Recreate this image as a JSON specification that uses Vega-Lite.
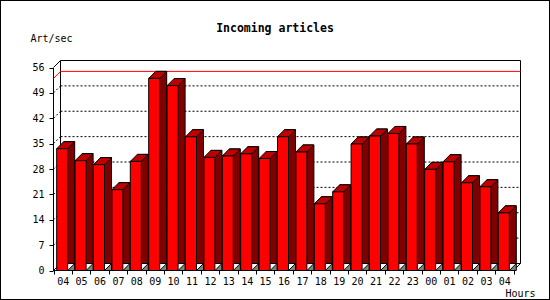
{
  "$schema": "https://vega.github.io/schema/vega-lite/v6.json",
  "width": 550,
  "height": 300,
  "autosize": {"type": "none"},
  "padding": 0,
  "background": "white",
  "config": {
    "view": {"stroke": "black", "strokeWidth": 2, "fill": "white"},
    "font": "DejaVu Sans Mono",
    "axis": {"labelOverlap": false, "labelFlush": false}
  },
  "title": {
    "text": "Incoming articles",
    "font": "DejaVu Sans Mono",
    "fontSize": 11.5,
    "fontWeight": "bold",
    "color": "black",
    "anchor": "middle",
    "frame": "group",
    "offset": -34
  },
  "datasets": {
    "main": [
      {"h": "04", "v": 33.6},
      {"h": "05", "v": 30.3},
      {"h": "06", "v": 29.2},
      {"h": "07", "v": 22.3},
      {"h": "08", "v": 30.1},
      {"h": "09", "v": 53.0},
      {"h": "10", "v": 51.0},
      {"h": "11", "v": 36.9},
      {"h": "12", "v": 31.2},
      {"h": "13", "v": 31.6},
      {"h": "14", "v": 32.2},
      {"h": "15", "v": 30.9},
      {"h": "16", "v": 36.9},
      {"h": "17", "v": 32.7},
      {"h": "18", "v": 18.4},
      {"h": "19", "v": 21.7},
      {"h": "20", "v": 34.9},
      {"h": "21", "v": 37.1},
      {"h": "22", "v": 37.8},
      {"h": "23", "v": 34.9},
      {"h": "00", "v": 27.9},
      {"h": "01", "v": 30.0},
      {"h": "02", "v": 24.2},
      {"h": "03", "v": 23.1},
      {"h": "04*", "v": 15.9}
    ],
    "grid": [{"g": 7}, {"g": 14}, {"g": 21}, {"g": 28}, {"g": 35}, {"g": 42}, {"g": 49}],
    "one": [{}]
  },
  "resolve": {"scale": {"x": "independent"}, "axis": {"x": "independent"}},
  "layer": [
    {
      "data": {"name": "one"},
      "layer": [
        {
          "data": {"name": "grid"},
          "mark": {"type": "rule", "color": "black", "strokeWidth": 1, "strokeDash": [2, 2], "xOffset": 7, "x2Offset": 7, "yOffset": -7},
          "encoding": {
            "x": {"datum": 0, "type": "quantitative", "scale": {"domain": [0, 1], "range": [53.5, 513.5]}, "axis": null},
            "x2": {"datum": 1},
            "y": {
              "field": "g",
              "type": "quantitative",
              "scale": {"domain": [0, 56], "range": [270.5, 67.5], "nice": false},
              "axis": {
                "orient": "left",
                "offset": -53,
                "values": [0, 7, 14, 21, 28, 35, 42, 49, 56],
                "tickCount": 20,
                "grid": false,
                "tickSize": 4,
                "tickColor": "black",
                "tickWidth": 1,
                "domainColor": "black",
                "domainWidth": 1,
                "labelPadding": 5,
                "labelFont": "DejaVu Sans Mono",
                "labelFontSize": 10,
                "labelColor": "black",
                "labelFlush": false,
                "labelOverlap": false,
                "title": "Art/sec",
                "titleAngle": 0,
                "titleAlign": "left",
                "titleBaseline": "middle",
                "titleX": -23,
                "titleY": 38,
                "titleFont": "DejaVu Sans Mono",
                "titleFontSize": 10,
                "titleFontWeight": "normal",
                "titleColor": "black"
              }
            }
          }
        },
        {
          "data": {"name": "grid"},
          "mark": {"type": "rule", "color": "black", "strokeWidth": 1, "strokeDash": [2, 2], "x2Offset": 7, "y2Offset": -7},
          "encoding": {
            "x": {"datum": 0, "type": "quantitative"},
            "x2": {"datum": 0},
            "y": {"field": "g", "type": "quantitative", "title": "Art/sec"},
            "y2": {"field": "g"}
          }
        },
        {
          "mark": {"type": "rule", "color": "black", "strokeWidth": 1, "xOffset": 7, "x2Offset": 7, "yOffset": -7},
          "encoding": {
            "x": {"datum": 0, "type": "quantitative"},
            "x2": {"datum": 1},
            "y": {"datum": 56, "type": "quantitative", "title": "Art/sec"}
          }
        },
        {
          "mark": {"type": "rule", "color": "black", "strokeWidth": 1, "xOffset": 7, "x2Offset": 7, "yOffset": -7},
          "encoding": {
            "x": {"datum": 0, "type": "quantitative"},
            "x2": {"datum": 1},
            "y": {"datum": 0, "type": "quantitative", "title": "Art/sec"}
          }
        },
        {
          "mark": {"type": "rule", "color": "black", "strokeWidth": 1, "xOffset": 7, "yOffset": -7, "y2Offset": -7},
          "encoding": {
            "x": {"datum": 0, "type": "quantitative"},
            "y": {"datum": 0, "type": "quantitative", "title": "Art/sec"},
            "y2": {"datum": 56}
          }
        },
        {
          "mark": {"type": "rule", "color": "black", "strokeWidth": 1, "xOffset": 7, "yOffset": -7, "y2Offset": -7},
          "encoding": {
            "x": {"datum": 1, "type": "quantitative"},
            "y": {"datum": 0, "type": "quantitative", "title": "Art/sec"},
            "y2": {"datum": 56}
          }
        },
        {
          "mark": {"type": "rule", "color": "black", "strokeWidth": 1, "x2Offset": 7, "y2Offset": -7},
          "encoding": {
            "x": {"datum": 0, "type": "quantitative"},
            "x2": {"datum": 0},
            "y": {"datum": 56, "type": "quantitative", "title": "Art/sec"},
            "y2": {"datum": 56}
          }
        },
        {
          "mark": {"type": "rule", "color": "black", "strokeWidth": 1, "x2Offset": 7, "y2Offset": -7},
          "encoding": {
            "x": {"datum": 1, "type": "quantitative"},
            "x2": {"datum": 1},
            "y": {"datum": 0, "type": "quantitative", "title": "Art/sec"},
            "y2": {"datum": 0}
          }
        },
        {
          "mark": {"type": "rule", "color": "black", "strokeWidth": 1, "x2Offset": 7, "y2Offset": -7},
          "encoding": {
            "x": {"datum": 0, "type": "quantitative"},
            "x2": {"datum": 0},
            "y": {"datum": 0, "type": "quantitative", "title": "Art/sec"},
            "y2": {"datum": 0}
          }
        },
        {
          "data": {"name": "main"},
          "transform": [{"aggregate": [{"op": "max", "field": "v", "as": "vmax"}]}],
          "mark": {"type": "rule", "color": "#ff0000", "strokeWidth": 1, "xOffset": 7, "x2Offset": 7, "yOffset": -7},
          "encoding": {
            "x": {"datum": 0, "type": "quantitative"},
            "x2": {"datum": 1},
            "y": {"field": "vmax", "type": "quantitative", "title": "Art/sec"}
          }
        },
        {
          "data": {"name": "main"},
          "transform": [{"aggregate": [{"op": "max", "field": "v", "as": "vmax"}]}],
          "mark": {"type": "rule", "color": "#ff0000", "strokeWidth": 1, "x2Offset": 7, "y2Offset": -7},
          "encoding": {
            "x": {"datum": 0, "type": "quantitative"},
            "x2": {"datum": 0},
            "y": {"field": "vmax", "type": "quantitative", "title": "Art/sec"},
            "y2": {"field": "vmax"}
          }
        }
      ]
    },
    {
      "data": {"name": "main"},
      "encoding": {
        "x": {
          "field": "h",
          "type": "nominal",
          "sort": null,
          "scale": {"type": "band", "range": [53.5, 513.5], "paddingInner": 0, "paddingOuter": 0},
          "axis": {
            "orient": "bottom",
            "offset": -30,
            "tickBand": "extent",
            "tickSize": 4,
            "tickColor": "black",
            "tickWidth": 1,
            "domainColor": "black",
            "domainWidth": 1,
            "labelAngle": 0,
            "labelPadding": 2,
            "labelFont": "DejaVu Sans Mono",
            "labelFontSize": 10,
            "labelColor": "black",
            "labelOverlap": false,
            "labelFlush": false,
            "labelExpr": "replace(datum.label, '*', '')",
            "title": "Hours",
            "titleFont": "DejaVu Sans Mono",
            "titleFontSize": 10,
            "titleFontWeight": "normal",
            "titleColor": "black",
            "titleAlign": "right",
            "titleBaseline": "middle",
            "titleX": 535,
            "titleY": 23
          }
        },
        "y": {
          "field": "v",
          "type": "quantitative",
          "axis": {
            "orient": "left",
            "offset": -53,
            "values": [0, 7, 14, 21, 28, 35, 42, 49, 56],
            "tickCount": 20,
            "grid": false,
            "tickSize": 4,
            "tickColor": "black",
            "tickWidth": 1,
            "domainColor": "black",
            "domainWidth": 1,
            "labelPadding": 5,
            "labelFont": "DejaVu Sans Mono",
            "labelFontSize": 10,
            "labelColor": "black",
            "labelFlush": false,
            "labelOverlap": false,
            "title": "Art/sec",
            "titleAngle": 0,
            "titleAlign": "left",
            "titleBaseline": "middle",
            "titleX": -23,
            "titleY": 38,
            "titleFont": "DejaVu Sans Mono",
            "titleFontSize": 10,
            "titleFontWeight": "normal",
            "titleColor": "black"
          }
        }
      },
      "layer": [
        {"mark": {"type": "bar", "width": 11, "xOffset": 6.5, "yOffset": -7, "y2Offset": 0, "fill": "#800000", "stroke": "black", "strokeWidth": 1}},
        {
          "mark": {"type": "point", "shape": "M5,0L12,-7L12,0Z", "size": 4, "filled": true, "fill": "#808080", "stroke": "black", "strokeWidth": 1, "opacity": 1},
          "encoding": {"y": {"datum": 0, "type": "quantitative"}}
        },
        {"mark": {"type": "point", "shape": "M-6,0L5,0L12,-7L1,-7Z", "size": 4, "filled": true, "fill": "#c00000", "stroke": "black", "strokeWidth": 1, "opacity": 1}},
        {"mark": {"type": "bar", "width": 11, "xOffset": -0.5, "fill": "#ff0000", "stroke": "black", "strokeWidth": 1}}
      ]
    }
  ]
}
